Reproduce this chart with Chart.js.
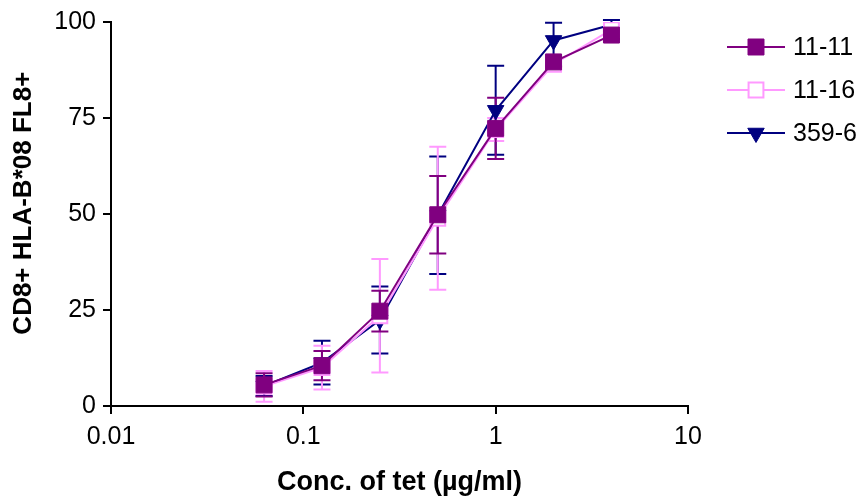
<!DOCTYPE html>
<html lang="en">
<head>
    <meta charset="UTF-8">
    <title>CD8+ HLA-B*08 FL8+</title>
    <script src="https://cdn.jsdelivr.net/npm/chart.js"></script>
    <style>
        html, body { margin: 0; padding: 0; background: #fff; }
        #wrap { width: 868px; height: 502px; }
    </style>
</head>
<body>
    <div id="wrap"><canvas id="myChart"></canvas></div>

    <script>
        // dados
        const doses = [0.0625, 0.125, 0.25, 0.5, 1, 2, 4];
        const labels = ['11-11', '11-16', '359-6'];
        const vals1111 = [5.5, 10.5, 24.7, 49.8, 72.3, 89.6, 96.6];
        const err1111 = [3.0, 3.8, 5.3, 10.1, 8.0, 1.2, 1.0];
        const vals1116 = [5.1, 10.0, 23.5, 48.9, 72.0, 89.0, 98.0];
        const err1116 = [4.0, 5.7, 14.8, 18.6, 3.0, 1.5, 1.0];
        const vals3596 = [5.2, 11.3, 22.4, 49.7, 77.0, 95.2, 99.3];
        const err3596 = [2.6, 5.7, 8.7, 15.3, 11.6, 4.6, 1.2];
        const xTicks = [0.01, 0.1, 1, 10];
        const yTicks = [0, 25, 50, 75, 100];

        const colors = ['#800080', '#FF99FF', '#000080'];
        const FONT = '"Liberation Sans", Arial, sans-serif';

        function pts(vals) {
            return doses.map((d, i) => ({ x: d, y: vals[i] }));
        }

        // barras de erro desenhadas por baixo dos pontos
        const errorBars = {
            id: 'errorBars',
            beforeDatasetsDraw(chart) {
                const ctx = chart.ctx;
                const xs = chart.scales.x, ys = chart.scales.y;
                const errs = [err1111, err1116, err3596];
                for (let k = 2; k >= 0; k--) {
                    const data = chart.data.datasets[k].data;
                    ctx.save();
                    ctx.strokeStyle = colors[k];
                    ctx.lineWidth = 2;
                    data.forEach((p, i) => {
                        const px = xs.getPixelForValue(p.x);
                        const top = ys.getPixelForValue(p.y + errs[k][i]);
                        const bot = ys.getPixelForValue(p.y - errs[k][i]);
                        ctx.beginPath();
                        ctx.moveTo(px, top); ctx.lineTo(px, bot);
                        ctx.moveTo(px - 8.5, top); ctx.lineTo(px + 8.5, top);
                        ctx.moveTo(px - 8.5, bot); ctx.lineTo(px + 8.5, bot);
                        ctx.stroke();
                    });
                    ctx.restore();
                }
            }
        };

        // legenda à direita, com linha atravessando o marcador
        const sideLegend = {
            id: 'sideLegend',
            afterDraw(chart) {
                const ctx = chart.ctx;
                const rows = [47, 90, 133];
                chart.data.datasets.forEach((ds, k) => {
                    const y = rows[k];
                    ctx.save();
                    ctx.strokeStyle = colors[k];
                    ctx.lineWidth = 2;
                    ctx.beginPath();
                    ctx.moveTo(727, y); ctx.lineTo(785, y);
                    ctx.stroke();
                    ctx.fillStyle = ds.pointBackgroundColor;
                    ctx.strokeStyle = ds.pointBorderColor;
                    ctx.lineWidth = ds.pointBorderWidth || 1;
                    Chart.helpers.drawPoint(ctx, {
                        pointStyle: ds.pointStyle,
                        radius: ds.pointRadius,
                        rotation: ds.pointRotation || 0,
                        borderWidth: ds.pointBorderWidth || 1
                    }, 756, y);
                    ctx.restore();
                    ctx.save();
                    ctx.fillStyle = '#000';
                    ctx.font = '25px ' + FONT;
                    ctx.textBaseline = 'middle';
                    ctx.fillText(ds.label, 793, y + 1);
                    ctx.restore();
                });
            }
        };

        const ctx = document.getElementById('myChart').getContext('2d');
        const myChart = new Chart(ctx, {
            type: 'line',
            data: {
                datasets: [
                    {
                        label: labels[0], data: pts(vals1111),
                        borderColor: colors[0], borderWidth: 2,
                        pointStyle: 'rect', pointRadius: 11.3,
                        pointBackgroundColor: colors[0], pointBorderColor: colors[0],
                        pointBorderWidth: 1
                    },
                    {
                        label: labels[1], data: pts(vals1116),
                        borderColor: colors[1], borderWidth: 2,
                        pointStyle: 'rect', pointRadius: 10.5,
                        pointBackgroundColor: '#fff', pointBorderColor: colors[1],
                        pointBorderWidth: 2
                    },
                    {
                        label: labels[2], data: pts(vals3596),
                        borderColor: colors[2], borderWidth: 2,
                        pointStyle: 'triangle', pointRadius: 9.5, pointRotation: 180,
                        pointBackgroundColor: colors[2], pointBorderColor: colors[2],
                        pointBorderWidth: 1
                    }
                ]
            },
            options: {
                responsive: true,
                maintainAspectRatio: false,
                animation: false,
                layout: { padding: { left: 0, top: 22, right: 180, bottom: 0 } },
                plugins: { legend: { display: false }, tooltip: { enabled: false } },
                scales: {
                    x: {
                        type: 'logarithmic',
                        min: 0.01, max: 10,
                        afterBuildTicks(scale) { scale.ticks = xTicks.map(v => ({ value: v })); },
                        afterFit(scale) { scale.height = 96; },
                        border: { color: '#000', width: 2 },
                        grid: { drawOnChartArea: false, color: '#000', lineWidth: 2, tickLength: 8 },
                        ticks: {
                            color: '#000', font: { family: FONT, size: 25 },
                            maxRotation: 0, padding: 8,
                            callback: v => String(v)
                        },
                        title: {
                            display: true, text: 'Conc. of tet (\u00b5g/ml)', color: '#000',
                            font: { family: FONT, size: 27, weight: 'bold' }, padding: { top: 4, bottom: 3 }
                        }
                    },
                    y: {
                        min: 0, max: 100,
                        afterBuildTicks(scale) { scale.ticks = yTicks.map(v => ({ value: v })); },
                        afterFit(scale) { scale.width = 111; },
                        border: { color: '#000', width: 2 },
                        grid: { drawOnChartArea: false, color: '#000', lineWidth: 2, tickLength: 8 },
                        ticks: { color: '#000', font: { family: FONT, size: 25 }, padding: 7 },
                        title: {
                            display: true, text: '   CD8+ HLA-B*08 FL8+', color: '#000',
                            font: { family: FONT, size: 26, weight: 'bold' }, padding: { top: 8, bottom: 4 }
                        }
                    }
                }
            },
            plugins: [errorBars, sideLegend]
        });
    </script>
</body>
</html>
